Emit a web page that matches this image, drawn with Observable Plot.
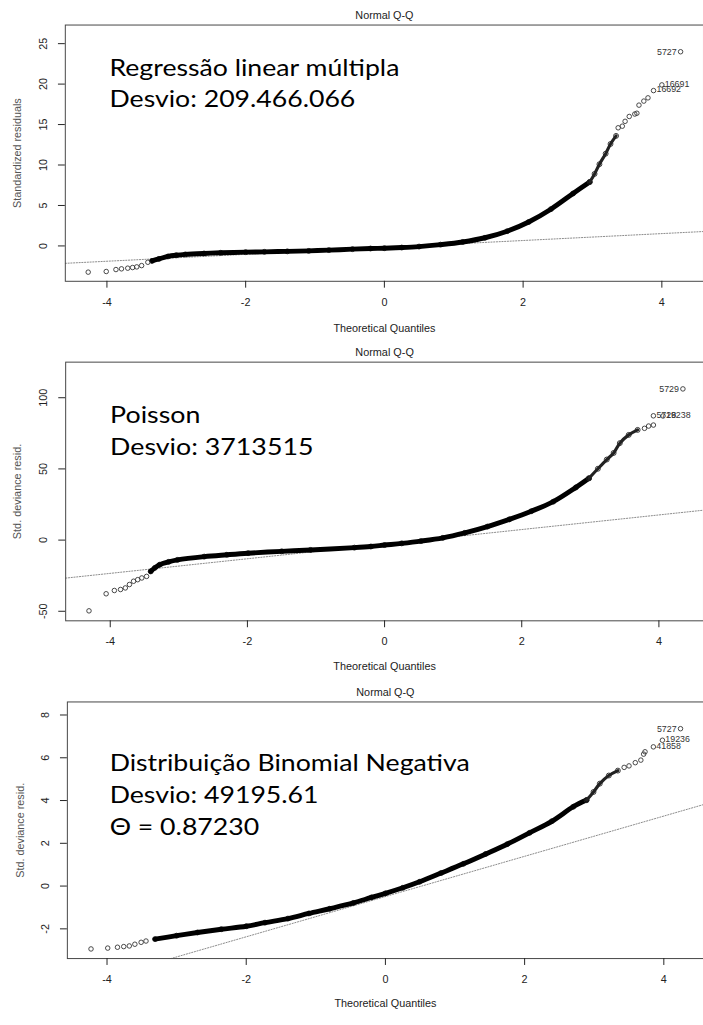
<!DOCTYPE html>
<html><head><meta charset="utf-8">
<script src="https://cdn.jsdelivr.net/npm/d3@7"></script>
<script src="https://cdn.jsdelivr.net/npm/@observablehq/plot@0.6"></script>
<style>
html,body{margin:0;padding:0;background:#fff;overflow:hidden;width:703px;height:1025px}
#chart svg{display:block}
</style></head><body><div id="chart"></div>
<script>
// Shared
const plotTitle = "Normal Q-Q";
const xLabel = "Theoretical Quantiles";
const xTicks = [-4, -2, 0, 2, 4];

// Panel 1: Regressão linear múltipla
const lmText = ["Regressão linear múltipla", "Desvio: 209.466.066"];
const lmYLabel = "Standardized residuals";
const lmYTicks = [0, 5, 10, 15, 20, 25];
const lmBand = [[-3.35,-1.85],[-3.25,-1.6],[-3.12,-1.3],[-3.0,-1.15],[-2.87,-1.05],[-2.6,-0.93],[-2.36,-0.85],[-2.0,-0.77],[-1.73,-0.73],[-1.4,-0.67],[-1.09,-0.61],[-0.8,-0.52],[-0.46,-0.40],[-0.2,-0.32],[0,-0.28],[0.25,-0.2],[0.5,-0.08],[0.81,0.16],[1.13,0.49],[1.45,1.01],[1.77,1.82],[2.08,2.96],[2.40,4.54],[2.72,6.48],[2.96,7.9]];
const lmChain = [[2.96,7.9],[3.03,8.9],[3.10,10.1],[3.19,11.4],[3.26,12.6],[3.34,13.6]];
const lmPoints = [[-4.27,-3.24],[-4.01,-3.16],[-3.87,-2.92],[-3.79,-2.83],[-3.70,-2.75],[-3.63,-2.67],[-3.57,-2.59],[-3.50,-2.43],[-3.41,-2.02],[3.37,14.6],[3.43,14.8],[3.47,15.4],[3.53,16.0],[3.61,16.3],[3.64,16.4],[3.67,17.4],[3.74,17.9],[3.80,18.3]];
const lmIds = [[3.88,19.2,"16692"],[4.0,19.9,"16691"],[4.27,24.0,"5727"]];
const lmRefLine = [[-4.6,-2.15],[4.6,1.78]];

// Panel 2: Poisson
const poisText = ["Poisson", "Desvio: 3713515"];
const poisYLabel = "Std. deviance resid.";
const poisYTicks = [-50, 0, 50, 100];
const poisBand = [[-3.41,-22.0],[-3.35,-19.5],[-3.28,-17.3],[-3.15,-15.3],[-3.02,-13.9],[-2.63,-11.6],[-2.3,-10.3],[-1.99,-9.2],[-1.5,-7.9],[-1.08,-6.9],[-0.44,-5.3],[-0.2,-4.5],[0,-3.5],[0.25,-2.3],[0.53,-0.7],[0.85,1.6],[1.17,5.1],[1.50,9.5],[1.82,14.6],[2.14,20.3],[2.46,27.0],[2.79,37.0],[2.98,43.4]];
const poisChain = [[2.98,43.4],[3.11,50.1],[3.24,56.6],[3.34,61.2],[3.43,68.1],[3.56,73.9],[3.69,77.4]];
const poisPoints = [[-4.31,-49.7],[-4.06,-37.7],[-3.94,-35.4],[-3.85,-34.7],[-3.78,-33.6],[-3.72,-31.2],[-3.66,-28.9],[-3.60,-27.8],[-3.54,-26.6],[-3.47,-25.5],[3.79,78.5],[3.85,80.1],[3.92,80.8]];
const poisIds = [[3.92,87.3,"5728"],[4.06,87.2,"19238"],[4.35,106.2,"5729"]];
const poisRefLine = [[-4.65,-26.7],[4.65,21.0]];

// Panel 3: Binomial Negativa
const nbText = ["Distribuição Binomial Negativa", "Desvio: 49195.61", "Θ = 0.87230"];
const nbYLabel = "Std. deviance resid.";
const nbYTicks = [-2, 0, 2, 4, 6, 8];
const nbBand = [[-3.31,-2.48],[-3.0,-2.32],[-2.7,-2.17],[-2.36,-2.02],[-2.0,-1.88],[-1.73,-1.71],[-1.4,-1.52],[-1.10,-1.28],[-0.8,-1.06],[-0.46,-0.79],[-0.2,-0.53],[0,-0.34],[0.25,-0.08],[0.49,0.2],[0.80,0.61],[1.12,1.04],[1.44,1.50],[1.75,1.96],[2.07,2.49],[2.39,3.03],[2.70,3.71],[2.89,4.02]];
const nbChain = [[2.89,4.02],[2.99,4.40],[3.08,4.79],[3.21,5.17],[3.34,5.40]];
const nbPoints = [[-4.23,-2.94],[-3.99,-2.90],[-3.85,-2.86],[-3.76,-2.83],[-3.68,-2.80],[-3.60,-2.72],[-3.51,-2.63],[-3.44,-2.57],[3.43,5.55],[3.50,5.62],[3.59,5.77],[3.67,5.89],[3.71,6.17],[3.73,6.28]];
const nbIds = [[3.85,6.51,"41858"],[3.98,6.82,"19236"],[4.24,7.36,"5727"]];
const nbRefLine = [[-4.57,-4.79],[4.57,3.81]];

const toObj = arr => arr.map(([q, r, id]) => ({q, r, id}));
const STRETCH = 1.18; // reference annotation font is wider than the available Lato

function panel(cfg) {
  const band = toObj(cfg.band), chain = toObj(cfg.chain), pts = toObj(cfg.points), ids = toObj(cfg.ids), ref = toObj(cfg.ref);
  const maxR = d3.max(ids, d => d.r);
  const idsLeft = ids.filter(d => d.r === maxR), idsRight = ids.filter(d => d.r !== maxR);
  const bigMarks = cfg.text.map((t, i) => Plot.text([t], {
    frameAnchor: "top-left", dx: cfg.textDx, dy: cfg.textBase[i], lineAnchor: "bottom",
    textAnchor: "start", text: d => d, fontSize: 23, fontFamily: "Lato, 'Open Sans', sans-serif", fill: "#000"
  }));
  const svg = Plot.plot({
    width: cfg.width, height: cfg.height,
    marginTop: cfg.marginTop, marginBottom: cfg.marginBottom, marginLeft: cfg.marginLeft, marginRight: 0,
    x: {domain: cfg.xDomain},
    y: {domain: cfg.yDomain},
    style: {fontFamily: "'Liberation Sans', Arial, sans-serif", fontSize: "11px", color: "#222", background: "#fff", overflow: "visible"},
    marks: [
      Plot.line(ref, {x: "q", y: "r", stroke: "#8a8a8a", strokeWidth: 1, strokeDasharray: "1.2,1.6", clip: true}),
      Plot.line(band, {x: "q", y: "r", stroke: "#000", strokeWidth: 5, strokeLinecap: "round", curve: "catmull-rom"}),
      Plot.dot(band, {x: "q", y: "r", r: 2.5, stroke: "#000", strokeWidth: 0.8}),
      Plot.line(chain, {x: "q", y: "r", stroke: "#222", strokeWidth: 3.2, curve: "catmull-rom"}),
      Plot.dot(chain, {x: "q", y: "r", r: 2.5, stroke: "#222", strokeWidth: 0.9}),
      Plot.dot(pts, {x: "q", y: "r", r: 2.3, stroke: "#333", strokeWidth: 0.9}),
      Plot.dot(ids, {x: "q", y: "r", r: 2.3, stroke: "#333", strokeWidth: 0.9}),
      Plot.text(idsRight, {x: "q", y: "r", text: "id", textAnchor: "start", lineAnchor: "middle", dx: 3, dy: -1, fontSize: 9, fill: "#333"}),
      Plot.text(idsLeft, {x: "q", y: "r", text: "id", textAnchor: "end", lineAnchor: "middle", dx: -4, fontSize: 9, fill: "#333"}),
      Plot.frame({stroke: "#444"}),
      Plot.axisX({ticks: xTicks, tickSize: 7, tickPadding: 10, tickFormat: d => String(d), label: null, fontSize: 11}),
      Plot.axisY({ticks: cfg.yTicks, tickSize: 7, tickFormat: () => "", label: null}),
      Plot.text(cfg.yTicks, {y: d => d, frameAnchor: "left", dx: -22, rotate: -90, textAnchor: "middle", lineAnchor: "middle", text: d => String(d), fontSize: 11, fill: "#222"}),
      Plot.text([cfg.yLabel], {frameAnchor: "left", dx: cfg.yLabelDx, rotate: -90, textAnchor: "middle", lineAnchor: "middle", text: d => d, fontSize: 11, fill: "#555"}),
      Plot.text([xLabel], {frameAnchor: "bottom", dy: cfg.xLabelDy, textAnchor: "middle", lineAnchor: "middle", text: d => d, fontSize: 11, fill: "#222"}),
      Plot.text([plotTitle], {frameAnchor: "top", dy: -10, textAnchor: "middle", lineAnchor: "middle", text: d => d, fontSize: 11, fill: "#222"}),
      ...bigMarks
    ]
  });
  return svg;
}

const chart = document.getElementById("chart");
const panels = [
  panel({
    width: 716, height: 340, marginTop: 25, marginBottom: 54, marginLeft: 66,
    xDomain: [-4.6, 4.6], yDomain: [-4.37, 27.3], yTicks: lmYTicks, yLabel: lmYLabel, yLabelDx: -49, xLabelDy: 48,
    band: lmBand, chain: lmChain, points: lmPoints, ids: lmIds, ref: lmRefLine,
    text: lmText, textDx: 45, textBase: [52, 83]
  }),
  panel({
    width: 712, height: 340, marginTop: 28, marginBottom: 50, marginLeft: 66,
    xDomain: [-4.65, 4.65], yDomain: [-56.7, 125], yTicks: poisYTicks, yLabel: poisYLabel, yLabelDx: -49, xLabelDy: 46,
    band: poisBand, chain: poisChain, points: poisPoints, ids: poisIds, ref: poisRefLine,
    text: poisText, textDx: 45, textBase: [62, 94]
  }),
  panel({
    width: 715, height: 345, marginTop: 32, marginBottom: 52, marginLeft: 68,
    xDomain: [-4.57, 4.57], yDomain: [-3.39, 8.61], yTicks: nbYTicks, yLabel: nbYLabel, yLabelDx: -48, xLabelDy: 46,
    band: nbBand, chain: nbChain, points: nbPoints, ids: nbIds, ref: nbRefLine,
    text: nbText, textDx: 43, textBase: [70, 103, 135]
  })
];
panels.forEach(p => chart.append(p));
// widen the annotation text to match the reference's wider face
panels.forEach(svg => {
  svg.querySelectorAll('g[font-size="23"] text').forEach(t => {
    const w = t.getComputedTextLength();
    t.setAttribute("textLength", (w * STRETCH).toFixed(1));
    t.setAttribute("lengthAdjust", "spacingAndGlyphs");
  });
});
</script></body></html>
